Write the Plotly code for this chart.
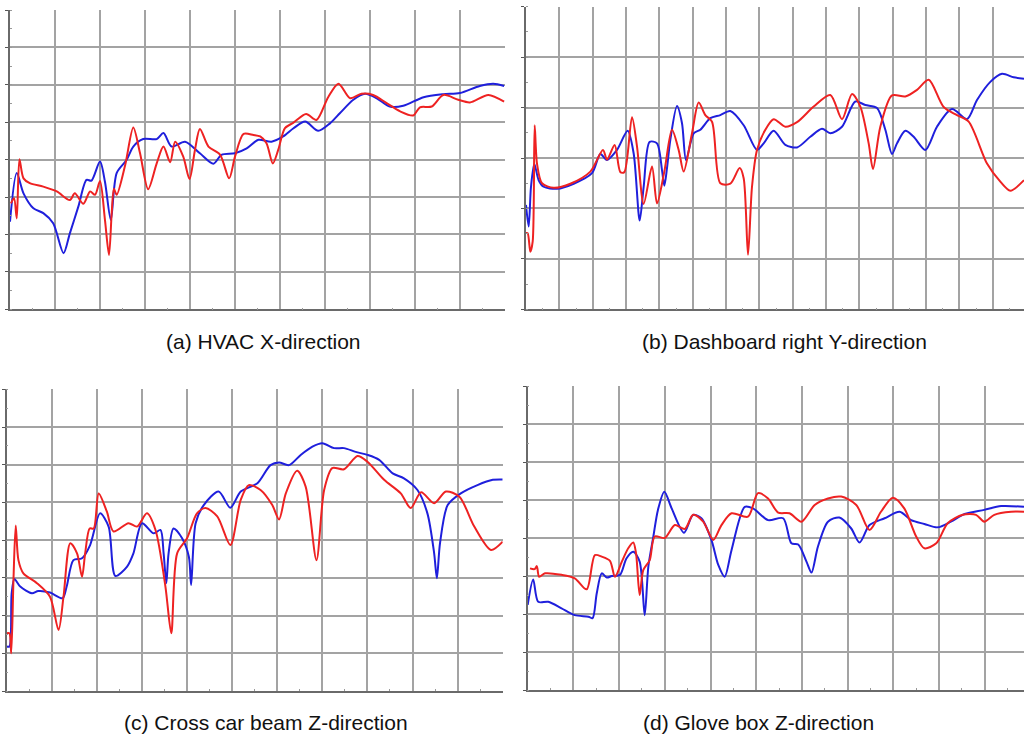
import plotly.graph_objects as go

# ---------------- data (x in grid-column units, y in grid-row units) ----------------
captions = ["(a) HVAC X-direction", "(b) Dashboard right Y-direction",
            "(c) Cross car beam Z-direction", "(d) Glove box Z-direction"]

# (a) HVAC X-direction
a_blue_x = [0, 0.15, 0.30, 0.52, 0.74, 0.96, 1.19, 1.33, 1.52, 1.70, 1.81, 2.0, 2.11, 2.24, 2.37, 2.59,
            2.74, 2.96, 3.26, 3.41, 3.59, 3.89, 4.22, 4.52, 4.70, 5.0, 5.26, 5.52, 5.81, 6.07, 6.30,
            6.56, 6.85, 7.11, 7.33, 7.63, 7.89, 8.15, 8.44, 8.74, 9.19, 9.63, 10.0, 10.44, 10.74, 10.98]
a_blue_y = [2.34, 3.64, 3.10, 2.70, 2.57, 2.30, 1.50, 2.03, 2.75, 3.46, 3.44, 3.95, 3.41, 2.39, 3.64, 3.99,
            4.35, 4.55, 4.55, 4.71, 4.35, 4.48, 4.17, 3.89, 4.13, 4.17, 4.30, 4.53, 4.48, 4.62, 4.84,
            5.02, 4.77, 4.97, 5.24, 5.60, 5.76, 5.64, 5.42, 5.44, 5.67, 5.75, 5.78, 5.97, 6.03, 5.97]
a_red_x = [0.02, 0.09, 0.15, 0.21, 0.30, 0.44, 0.74, 1.04, 1.33, 1.44, 1.63, 1.78, 1.89, 2.0, 2.11, 2.20,
           2.26, 2.31, 2.37, 2.56, 2.74, 2.89, 3.07, 3.26, 3.41, 3.56, 3.67, 3.85, 3.99, 4.11, 4.22,
           4.41, 4.67, 4.87, 5.0, 5.19, 5.41, 5.56, 5.70, 5.84, 5.96, 6.11, 6.30, 6.58, 6.81, 7.07,
           7.30, 7.56, 7.81, 8.07, 8.37, 8.67, 8.96, 9.11, 9.37, 9.63, 9.96, 10.22, 10.63, 10.98]
a_red_y = [2.83, 2.97, 2.43, 4.01, 3.50, 3.37, 3.28, 3.15, 2.92, 3.10, 2.82, 3.15, 3.06, 3.43, 2.39, 1.45,
           2.57, 3.22, 3.06, 3.86, 4.86, 4.17, 3.21, 3.90, 4.35, 3.93, 4.48, 4.08, 3.48, 4.26, 4.82,
           4.35, 4.13, 3.50, 4.08, 4.69, 4.66, 4.62, 4.44, 3.90, 4.26, 4.84, 4.99, 5.22, 5.06, 5.67,
           6.03, 5.64, 5.76, 5.73, 5.51, 5.29, 5.18, 5.40, 5.42, 5.73, 5.60, 5.53, 5.73, 5.55]

# (b) Dashboard right Y-direction
b_blue_x = [0, 0.08, 0.15, 0.25, 0.38, 0.53, 0.93, 1.43, 1.98, 2.23, 2.43, 2.73, 3.05, 3.23, 3.41, 3.53,
            3.71, 3.93, 4.08, 4.15, 4.23, 4.33, 4.53, 4.68, 4.80, 5.03, 5.23, 5.53, 5.83, 6.13, 6.53,
            6.93, 7.13, 7.43, 7.78, 8.13, 8.53, 8.88, 9.13, 9.48, 9.88, 10.18, 10.53, 10.78, 10.98,
            11.13, 11.38, 11.63, 11.98, 12.33, 12.78, 13.23, 13.53, 13.93, 14.28, 14.63, 14.94]
b_blue_y = [2.07, 1.64, 2.43, 2.88, 2.56, 2.43, 2.39, 2.49, 2.70, 3.08, 2.96, 3.16, 3.54, 3.09, 1.76, 2.43,
            3.32, 3.29, 2.76, 2.45, 2.80, 3.36, 4.03, 3.69, 2.96, 3.49, 3.56, 3.79, 3.85, 3.93, 3.65,
            3.16, 3.29, 3.54, 3.26, 3.21, 3.42, 3.58, 3.49, 3.62, 4.12, 4.05, 3.99, 3.56, 3.08,
            3.29, 3.54, 3.42, 3.16, 3.62, 3.97, 3.77, 4.15, 4.51, 4.67, 4.60, 4.57]
b_red_x = [0, 0.05, 0.13, 0.20, 0.26, 0.33, 0.48, 0.83, 1.33, 1.93, 2.31, 2.43, 2.66, 2.83, 2.95, 3.18,
           3.33, 3.53, 3.78, 3.93, 4.15, 4.38, 4.58, 4.73, 4.98, 5.18, 5.38, 5.58, 5.83, 6.13, 6.41,
           6.53, 6.66, 6.78, 6.93, 7.18, 7.43, 7.78, 8.13, 8.63, 9.13, 9.48, 9.78, 10.03, 10.28,
           10.41, 10.63, 10.98, 11.38, 11.73, 12.08, 12.53, 12.93, 13.28, 13.83, 14.23, 14.53, 14.94]
b_red_y = [1.51, 1.51, 1.14, 1.34, 3.65, 2.89, 2.50, 2.41, 2.49, 2.73, 3.16, 2.97, 3.26, 2.72, 2.72, 3.81,
           3.23, 2.09, 2.83, 2.10, 2.73, 3.56, 3.16, 2.73, 3.49, 4.10, 3.85, 3.72, 2.50, 2.49, 2.80,
           2.60, 1.08, 2.43, 3.16, 3.56, 3.77, 3.62, 3.71, 4.02, 4.25, 3.77, 4.27, 4.02, 3.29,
           2.78, 3.62, 4.24, 4.22, 4.35, 4.55, 4.01, 3.85, 3.72, 2.89, 2.53, 2.35, 2.56]

# (c) Cross car beam Z-direction
c_blue_x = [0, 0.06, 0.11, 0.17, 0.30, 0.56, 0.70, 0.96, 1.24, 1.33, 1.48, 1.67, 1.85, 2.07, 2.26, 2.41,
            2.67, 2.81, 3.0, 3.26, 3.41, 3.48, 3.54, 3.59, 3.70, 3.89, 4.04, 4.09, 4.19, 4.37, 4.70,
            4.96, 5.19, 5.56, 5.85, 6.04, 6.26, 6.52, 6.78, 7.0, 7.26, 7.48, 7.74, 8.0, 8.26, 8.56,
            8.81, 9.11, 9.33, 9.48, 9.54, 9.61, 9.78, 10.07, 10.44, 10.78, 11.0]
c_blue_y = [1.18, 1.18, 2.59, 2.97, 2.77, 2.59, 2.65, 2.61, 2.46, 2.77, 3.47, 3.52, 3.87, 4.71, 4.36, 3.05,
            3.30, 3.65, 4.45, 4.18, 4.27, 3.65, 2.86, 3.65, 4.31, 4.05, 3.56, 2.81, 4.45, 4.93, 5.29,
            4.86, 5.29, 5.51, 5.99, 6.06, 5.99, 6.26, 6.48, 6.57, 6.44, 6.44, 6.34, 6.26, 6.13, 5.77,
            5.64, 5.33, 4.71, 3.65, 2.99, 3.92, 4.93, 5.24, 5.46, 5.60, 5.61]
c_red_x = [0, 0.06, 0.10, 0.15, 0.20, 0.26, 0.37, 0.67, 0.96, 1.15, 1.26, 1.41, 1.56, 1.67, 1.74, 1.84,
           1.93, 2.04, 2.22, 2.37, 2.70, 2.89, 3.11, 3.30, 3.52, 3.65, 3.78, 4.0, 4.22, 4.41, 4.67,
           4.96, 5.19, 5.37, 5.63, 5.89, 6.04, 6.19, 6.44, 6.63, 6.87, 7.04, 7.22, 7.48, 7.78, 8.0,
           8.37, 8.74, 8.96, 9.19, 9.48, 9.74, 10.04, 10.37, 10.74, 11.0]
c_red_y = [1.53, 1.53, 1.0, 2.94, 4.39, 3.47, 3.12, 2.86, 2.50, 1.62, 2.50, 3.92, 3.65, 3.03, 3.65, 4.31,
           4.31, 5.24, 4.76, 4.23, 4.45, 4.36, 4.71, 4.27, 2.77, 1.53, 3.65, 4.05, 4.71, 4.85, 4.63,
           3.87, 5.07, 5.46, 5.33, 4.93, 4.55, 5.24, 5.84, 5.42, 3.47, 5.33, 5.91, 5.88, 6.23, 6.08,
           5.60, 5.24, 4.85, 5.27, 4.98, 5.29, 5.15, 4.36, 3.74, 3.96]

# (d) Glove box Z-direction
d_blue_x = [0, 0.12, 0.23, 0.45, 0.74, 1.03, 1.33, 1.42, 1.51, 1.62, 1.73, 1.84, 2.02, 2.16, 2.31, 2.45,
            2.56, 2.64, 2.75, 2.85, 2.99, 3.15, 3.42, 3.62, 3.80, 4.02, 4.17, 4.31, 4.46, 4.75, 4.93,
            5.26, 5.59, 5.77, 5.92, 6.10, 6.21, 6.35, 6.57, 6.82, 7.08, 7.26, 7.48, 7.81, 8.14, 8.39,
            8.68, 8.97, 9.26, 9.56, 9.99, 10.36, 10.86]
d_blue_y = [2.24, 2.91, 2.32, 2.32, 2.15, 1.97, 1.93, 1.89, 2.54, 3.07, 2.96, 3.0, 3.03, 3.46, 3.64, 3.38,
            1.97, 3.25, 4.04, 4.74, 5.22, 4.78, 4.14, 4.61, 4.52, 3.95, 3.29, 2.98, 3.68, 4.82, 4.78,
            4.47, 4.52, 3.86, 3.83, 3.38, 3.09, 3.77, 4.43, 4.54, 4.25, 3.88, 4.34, 4.52, 4.69, 4.47,
            4.37, 4.28, 4.43, 4.63, 4.74, 4.84, 4.82]
d_red_x = [0.05, 0.15, 0.20, 0.25, 0.38, 0.74, 1.03, 1.29, 1.47, 1.62, 1.80, 1.91, 2.06, 2.20, 2.31, 2.37,
           2.45, 2.53, 2.67, 2.78, 3.0, 3.22, 3.44, 3.62, 3.84, 4.06, 4.24, 4.46, 4.82, 5.04, 5.26,
           5.48, 5.73, 5.99, 6.28, 6.57, 6.86, 7.19, 7.48, 7.73, 7.99, 8.24, 8.50, 8.68, 8.94, 9.19,
           9.52, 9.81, 9.99, 10.21, 10.58, 10.86]
d_red_y = [3.20, 3.18, 3.26, 2.98, 3.07, 3.03, 2.94, 2.65, 3.55, 3.51, 3.40, 2.98, 3.38, 3.73, 3.88, 3.60,
           2.50, 3.16, 3.42, 4.04, 4.0, 4.34, 4.24, 4.61, 4.43, 3.95, 4.34, 4.65, 4.56, 5.18, 5.04,
           4.67, 4.65, 4.43, 4.87, 5.04, 5.09, 4.87, 4.21, 4.69, 5.06, 4.78, 4.04, 3.73, 3.86, 4.39,
           4.61, 4.61, 4.43, 4.61, 4.69, 4.69]

# ---------------- figure ----------------
W, H = 1024, 738
BLUE = "#1f1fdc"
RED = "#ee2222"
GRID = "#a3a3a3"
AXIS = "#6a6a6a"

# panel pixel boxes: left, right, top, bottom ; x range ; rows
panels = [
    dict(px=(10, 505), py=(10, 309.3), xr=11, rows=8,
         series=[(a_blue_x, a_blue_y, BLUE), (a_red_x, a_red_y, RED)]),
    dict(px=(526, 1024), py=(6.7, 309.3), xr=14.94, rows=6,
         series=[(b_blue_x, b_blue_y, BLUE), (b_red_x, b_red_y, RED)]),
    dict(px=(6.7, 502.7), py=(389.3, 691), xr=11, rows=8,
         series=[(c_blue_x, c_blue_y, BLUE), (c_red_x, c_red_y, RED)]),
    dict(px=(527.7, 1024), py=(386, 690), xr=10.86, rows=8,
         series=[(d_blue_x, d_blue_y, BLUE), (d_red_x, d_red_y, RED)]),
]
cap_pos = [(263, 341), (784, 341), (266, 722), (758, 722)]

fig = go.Figure()
layout = dict(width=W, height=H, margin=dict(l=0, r=0, t=0, b=0),
              paper_bgcolor="white", plot_bgcolor="white", showlegend=False)

for i, p in enumerate(panels):
    n = "" if i == 0 else str(i + 1)
    for xs, ys, col in p["series"]:
        fig.add_trace(go.Scatter(x=xs, y=ys, mode="lines", xaxis="x" + n, yaxis="y" + n,
                                 line=dict(color=col, width=2, shape="spline", smoothing=0.8),
                                 hoverinfo="skip"))
    xd = [p["px"][0] / W, p["px"][1] / W]
    yd = [1 - p["py"][1] / H, 1 - p["py"][0] / H]
    layout["xaxis" + n] = dict(domain=xd, range=[0, p["xr"]], dtick=1, tick0=0,
                               showgrid=True, gridcolor=GRID, gridwidth=1.5,
                               showline=True, linecolor=AXIS, linewidth=1.5,
                               showticklabels=False, ticks="", zeroline=False,
                               minor=dict(dtick=0.5, ticks="inside", ticklen=2, tickcolor="#999",
                                          showgrid=False),
                               anchor="y" + n, fixedrange=True)
    layout["yaxis" + n] = dict(domain=yd, range=[0, p["rows"]], dtick=1, tick0=0,
                               showgrid=True, gridcolor=GRID, gridwidth=1.5,
                               showline=True, linecolor=AXIS, linewidth=1.5,
                               showticklabels=False, ticks="outside", ticklen=3,
                               tickcolor="#555", zeroline=False,
                               minor=dict(dtick=0.5, ticks="inside", ticklen=2, tickcolor="#999",
                                          showgrid=False),
                               anchor="x" + n, fixedrange=True)

fig.update_layout(**layout)

for txt, (cx, cy) in zip(captions, cap_pos):
    fig.add_annotation(text=txt, x=cx / W, y=1 - cy / H, xref="paper", yref="paper",
                       showarrow=False, xanchor="center", yanchor="middle",
                       font=dict(family="Liberation Sans, Arial, sans-serif", size=21, color="#111"))

fig.write_html("out.html", config={"displayModeBar": False},
               post_script="document.body.style.margin='0';document.body.style.padding='0';"
                           "document.documentElement.style.overflow='hidden';")
